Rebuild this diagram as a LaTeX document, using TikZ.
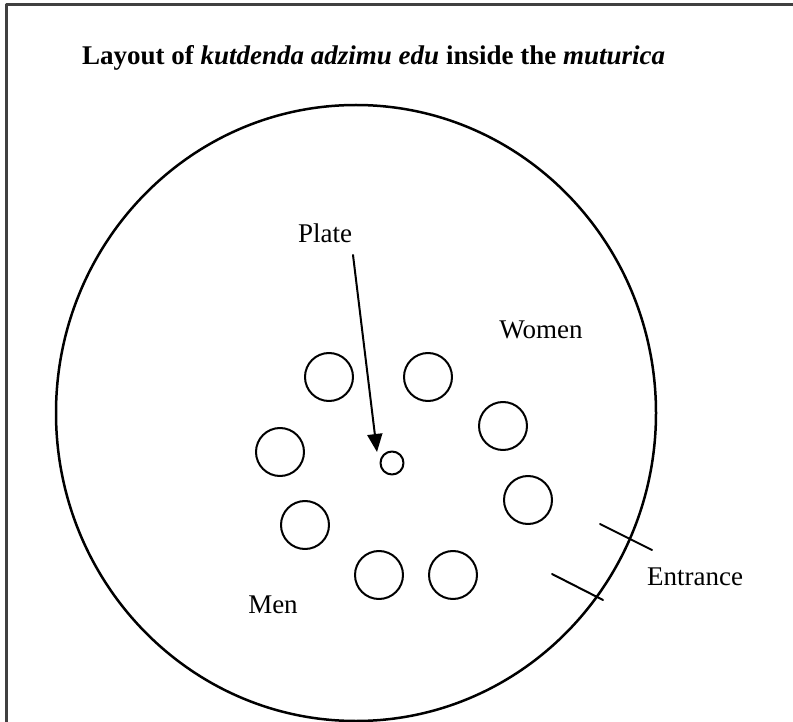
\documentclass[tikz,border=0pt]{standalone}
\usepackage{fontspec}
\setmainfont{Liberation Serif}
\usetikzlibrary{arrows.meta}

\tikzset{
  lbl/.style={font=\fontsize{27}{32}\selectfont, inner sep=0pt},
  seat/.style={circle, draw, line width=2pt, minimum size=48pt, inner sep=0pt},
  dish/.style={circle, draw, line width=2pt, minimum size=23pt, inner sep=0pt},
}

\begin{document}
\begin{tikzpicture}[x=1pt, y=-1pt, line cap=round, line join=round]
    \useasboundingbox (0,0) rectangle (793,722);

    % 枠 (上と左)
    \draw[black!75, line width=3pt, line cap=butt] (6,722) -- (6,5) -- (793,5);

    % タイトル
    \node[lbl, anchor=base west, font=\fontsize{27}{32}\selectfont\bfseries] (title) at (82,65)
        {Layout of \textit{kutdenda adzimu edu} inside the \textit{muturica}};

    % muturica (外周)
    \draw[line width=2.5pt] (356,413) ellipse [x radius=300, y radius=308];

    % 座席
    \foreach \x/\y [count=\i] in {329/377, 428/377, 503/426, 528/500, 453/575, 379/575, 305/525, 280/452}
        \node[seat] (seat\i) at (\x,\y) {};

    % 皿
    \node[dish] (plate) at (392,463) {};
    \node[lbl] (plate label) at (325,233) {Plate};
    \coordinate (arrow start) at (353,255);
    \coordinate (arrow tip) at (377,452);
    \draw[line width=2pt, -{Triangle[length=18pt, width=15pt]}] (arrow start) -- (arrow tip);

    % 女・男
    \node[lbl] (women) at (541,330) {Women};
    \node[lbl] (men) at (273,605) {Men};

    % 入口
    \draw[line width=2pt] (600,524) -- (652,550);
    \draw[line width=2pt] (552,574) -- (603,600);
    \node[lbl] (entrance) at (695,577) {Entrance};
\end{tikzpicture}
\end{document}
